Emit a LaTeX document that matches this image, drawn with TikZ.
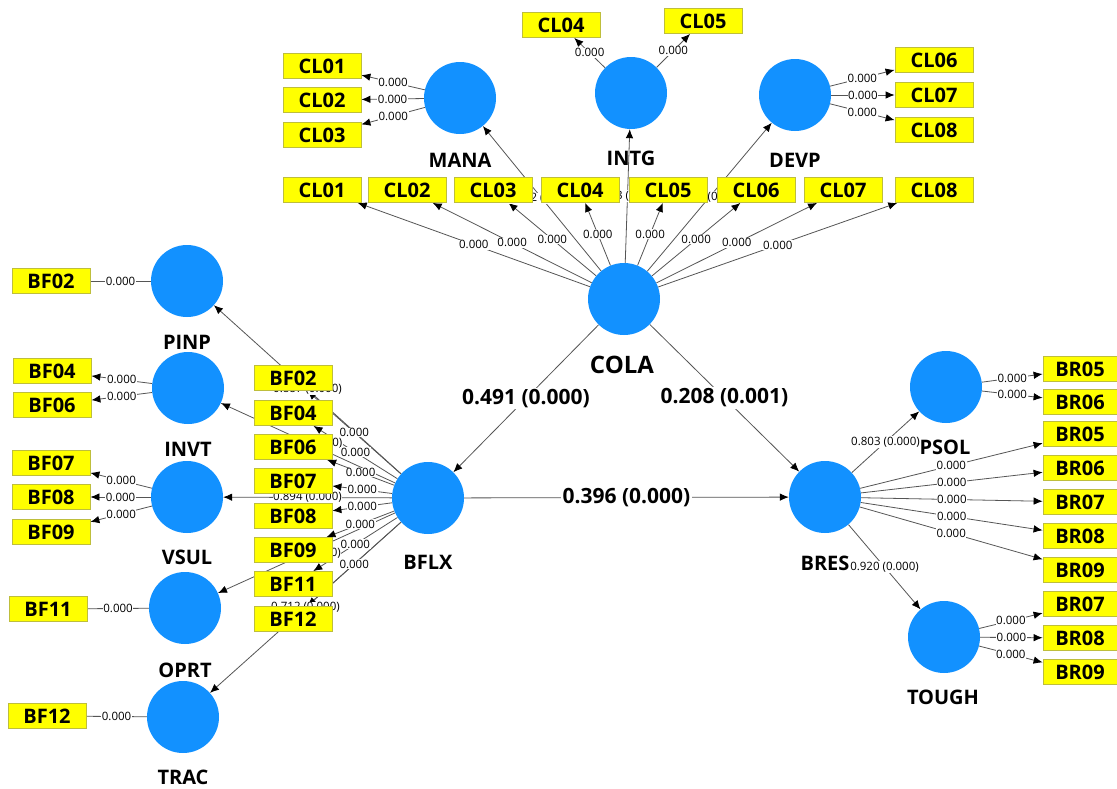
\documentclass[tikz,border=0pt]{standalone}
\usepackage{fontspec}
\setmainfont{Open Sans}
\usetikzlibrary{arrows.meta}
\definecolor{plsblue}{RGB}{18,145,255}
\definecolor{plsyellow}{RGB}{255,255,0}
\definecolor{boxedge}{RGB}{190,190,60}
\definecolor{linegray}{RGB}{85,85,85}
\pgfdeclarelayer{lines}
\pgfdeclarelayer{labels}
\pgfsetlayers{lines,labels,main}
\newcommand{\ArrL}[3]{%
  \begin{pgfonlayer}{lines}\draw[arr] (#1) -- (#2);\end{pgfonlayer}%
  \begin{pgfonlayer}{labels}\path (#1) -- (#2) node[midway,lab]{#3};\end{pgfonlayer}}
\newcommand{\PlainL}[3]{%
  \begin{pgfonlayer}{lines}\draw[conn] (#1) -- (#2);\end{pgfonlayer}%
  \begin{pgfonlayer}{labels}\path (#1) -- (#2) node[midway,lab]{#3};\end{pgfonlayer}}
\newcommand{\BigL}[3]{%
  \begin{pgfonlayer}{lines}\draw[arr] (#1) -- (#2);\end{pgfonlayer}%
  \begin{pgfonlayer}{labels}\path (#1) -- (#2) node[midway,biglab]{#3};\end{pgfonlayer}}
\begin{document}
\begin{tikzpicture}[x=1pt,y=-1pt,
  lv/.style={circle,fill=plsblue,minimum size=72pt,inner sep=0pt},
  ind/.style={rectangle,draw=boxedge,line width=0.8pt,fill=plsyellow,minimum width=78pt,minimum height=25pt,inner sep=0pt,font=\fontsize{20}{22}\selectfont\bfseries},
  indr/.style={ind,minimum width=74pt},
  lvname/.style={font=\fontsize{20}{24}\selectfont\bfseries},
  conn/.style={draw=linegray,line width=0.8pt},
  arr/.style={conn,-{Latex[length=9pt,width=7.5pt,color=black]}},
  lab/.style={font=\fontsize{11.5}{13}\selectfont,fill=white,inner sep=0.6pt},
  biglab/.style={font=\fontsize{21}{24}\selectfont\bfseries,fill=white,inner sep=1.5pt}]
\useasboundingbox (0,0) rectangle (1117,788);
\begin{pgfonlayer}{lines}\fill[white] (0,0) rectangle (1117,788);\end{pgfonlayer}
% latent variables
\node[lv] (MANA) at (460,98) {};
\node[lv] (INTG) at (631,93) {};
\node[lv] (DEVP) at (795,95) {};
\node[lv] (COLA) at (624,299) {};
\node[lv] (BFLX) at (428,498) {};
\node[lv] (BRES) at (825,497) {};
\node[lv] (PSOL) at (946,387) {};
\node[lv] (TOUGH) at (944,637) {};
\node[lv] (PINP) at (187,281) {};
\node[lv] (INVT) at (188,388) {};
\node[lv] (VSUL) at (187,497) {};
\node[lv] (OPRT) at (185,608) {};
\node[lv] (TRAC) at (183,717) {};
% names
\node[lvname] (nMANA) at (460,160) {MANA};
\node[lvname] (nINTG) at (631,158) {INTG};
\node[lvname] (nDEVP) at (795,160) {DEVP};
\node[lvname,font=\fontsize{24}{28}\selectfont\bfseries] (nCOLA) at (622,365) {COLA};
\node[lvname] (nBFLX) at (428,562) {BFLX};
\node[lvname] (nBRES) at (825,563) {BRES};
\node[lvname] (nPSOL) at (945,447) {PSOL};
\node[lvname] (nTOUGH) at (943,697) {TOUGH};
\node[lvname] (nPINP) at (187,342) {PINP};
\node[lvname] (nINVT) at (188,449) {INVT};
\node[lvname] (nVSUL) at (187,557) {VSUL};
\node[lvname] (nOPRT) at (185,670) {OPRT};
\node[lvname] (nTRAC) at (183,777) {TRAC};
% indicator boxes
\node[ind] (mCL01) at (322,66) {CL01};
\node[ind] (mCL02) at (322,100) {CL02};
\node[ind] (mCL03) at (322,135) {CL03};
\node[ind] (iCL04) at (561,25) {CL04};
\node[ind] (iCL05) at (703,21) {CL05};
\node[ind] (dCL06) at (934,60) {CL06};
\node[ind] (dCL07) at (934,95) {CL07};
\node[ind] (dCL08) at (934,130) {CL08};
\node[ind] (cCL01) at (322,190) {CL01};
\node[ind] (cCL02) at (407,190) {CL02};
\node[ind] (cCL03) at (493,190) {CL03};
\node[ind] (cCL04) at (580,190) {CL04};
\node[ind] (cCL05) at (668,190) {CL05};
\node[ind] (cCL06) at (756,190) {CL06};
\node[ind] (cCL07) at (843,190) {CL07};
\node[ind] (cCL08) at (934,190) {CL08};
\node[ind] (pBF02) at (51,281) {BF02};
\node[ind] (nBF04) at (52,371) {BF04};
\node[ind] (nBF06) at (52,405) {BF06};
\node[ind] (vBF07) at (51,463) {BF07};
\node[ind] (vBF08) at (51,497) {BF08};
\node[ind] (vBF09) at (51,532) {BF09};
\node[ind] (oBF11) at (48,609) {BF11};
\node[ind] (tBF12) at (47,716) {BF12};
\node[ind] (bBF02) at (293,378) {BF02};
\node[ind] (bBF04) at (293,413) {BF04};
\node[ind] (bBF06) at (293,447) {BF06};
\node[ind] (bBF07) at (293,481) {BF07};
\node[ind] (bBF08) at (293,516) {BF08};
\node[ind] (bBF09) at (293,550) {BF09};
\node[ind] (bBF11) at (293,584) {BF11};
\node[ind] (bBF12) at (293,619) {BF12};
\node[indr] (sBR05) at (1080,369) {BR05};
\node[indr] (sBR06) at (1080,402) {BR06};
\node[indr] (rBR05) at (1080,434) {BR05};
\node[indr] (rBR06) at (1080,468) {BR06};
\node[indr] (rBR07) at (1080,502) {BR07};
\node[indr] (rBR08) at (1080,536) {BR08};
\node[indr] (rBR09) at (1080,570) {BR09};
\node[indr] (gBR07) at (1080,604) {BR07};
\node[indr] (gBR08) at (1080,638) {BR08};
\node[indr] (gBR09) at (1080,672) {BR09};
% structural paths
\BigL{COLA}{BFLX}{0.491 (0.000)}
\BigL{COLA}{BRES}{0.208 (0.001)}
\BigL{BFLX}{BRES}{0.396 (0.000)}
\ArrL{COLA}{MANA}{0.842 (0.000)}
\ArrL{COLA}{INTG}{0.873 (0.000)}
\ArrL{COLA}{DEVP}{0.812 (0.000)}
\ArrL{BRES}{PSOL}{0.803 (0.000)}
\ArrL{BRES}{TOUGH}{0.920 (0.000)}
\ArrL{BFLX}{PINP}{0.887 (0.000)}
\ArrL{BFLX}{INVT}{0.861 (0.000)}
\ArrL{BFLX}{VSUL}{0.894 (0.000)}
\ArrL{BFLX}{OPRT}{0.759 (0.000)}
\ArrL{BFLX}{TRAC}{0.712 (0.000)}
% loadings
\ArrL{MANA}{mCL01}{0.000}
\ArrL{MANA}{mCL02}{0.000}
\ArrL{MANA}{mCL03}{0.000}
\ArrL{INTG}{iCL04}{0.000}
\ArrL{INTG}{iCL05}{0.000}
\ArrL{DEVP}{dCL06}{0.000}
\ArrL{DEVP}{dCL07}{0.000}
\ArrL{DEVP}{dCL08}{0.000}
\ArrL{COLA}{cCL01}{0.000}
\ArrL{COLA}{cCL02}{0.000}
\ArrL{COLA}{cCL03}{0.000}
\ArrL{COLA}{cCL04}{0.000}
\ArrL{COLA}{cCL05}{0.000}
\ArrL{COLA}{cCL06}{0.000}
\ArrL{COLA}{cCL07}{0.000}
\ArrL{COLA}{cCL08}{0.000}
\PlainL{PINP}{pBF02}{0.000}
\ArrL{INVT}{nBF04}{0.000}
\ArrL{INVT}{nBF06}{0.000}
\ArrL{VSUL}{vBF07}{0.000}
\ArrL{VSUL}{vBF08}{0.000}
\ArrL{VSUL}{vBF09}{0.000}
\PlainL{OPRT}{oBF11}{0.000}
\PlainL{TRAC}{tBF12}{0.000}
\ArrL{BFLX}{bBF02}{0.000}
\ArrL{BFLX}{bBF04}{0.000}
\ArrL{BFLX}{bBF06}{0.000}
\ArrL{BFLX}{bBF07}{0.000}
\ArrL{BFLX}{bBF08}{0.000}
\ArrL{BFLX}{bBF09}{0.000}
\ArrL{BFLX}{bBF11}{0.000}
\ArrL{BFLX}{bBF12}{0.000}
\ArrL{PSOL}{sBR05}{0.000}
\ArrL{PSOL}{sBR06}{0.000}
\ArrL{BRES}{rBR05}{0.000}
\ArrL{BRES}{rBR06}{0.000}
\ArrL{BRES}{rBR07}{0.000}
\ArrL{BRES}{rBR08}{0.000}
\ArrL{BRES}{rBR09}{0.000}
\ArrL{TOUGH}{gBR07}{0.000}
\ArrL{TOUGH}{gBR08}{0.000}
\ArrL{TOUGH}{gBR09}{0.000}
\end{tikzpicture}
\end{document}
